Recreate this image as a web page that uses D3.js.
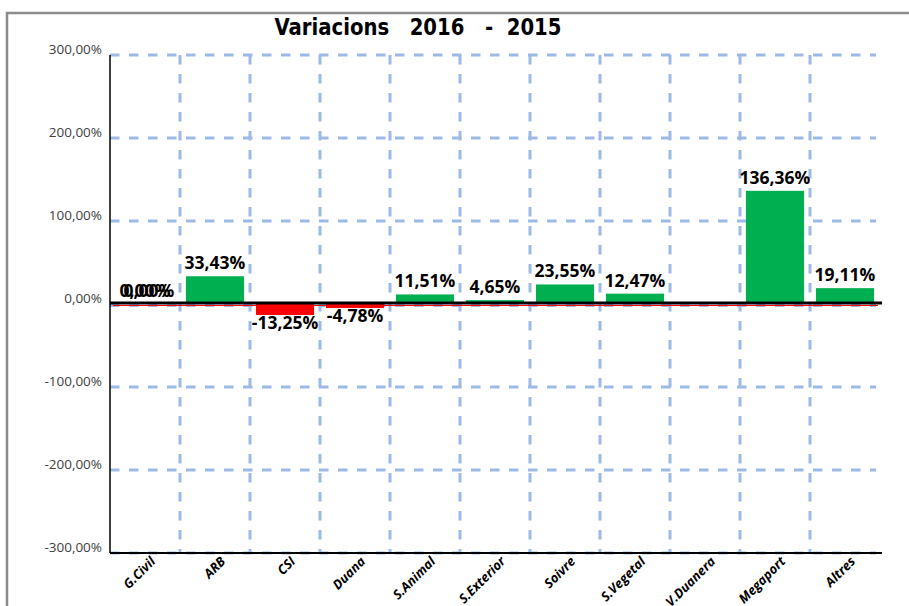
<!DOCTYPE html>
<html><head><meta charset="utf-8">
<script src="https://cdn.jsdelivr.net/npm/d3@7"></script>
<style>body{margin:0;background:#fff}</style>
</head><body>
<svg id="c" width="909" height="606"></svg>
<script>
const categories = ["G.Civil","ARB","CSI","Duana","S.Animal","S.Exterior","Soivre","S.Vegetal","V.Duanera","Megaport","Altres"];
const values = [0, 33.43, -13.25, -4.78, 11.51, 4.65, 23.55, 12.47, 0, 136.36, 19.11];
const labels = ["0,00%","33,43%","-13,25%","-4,78%","11,51%","4,65%","23,55%","12,47%",null,"136,36%","19,11%"];
const yTicks = [300, 200, 100, 0, -100, -200, -300];
const yTickLabels = ["300,00%","200,00%","100,00%","0,00%","-100,00%","-200,00%","-300,00%"];
const title = "Variacions\u00a0\u00a0\u00a02016\u00a0\u00a0\u00a0-\u00a0\u00a02015";

const svg = d3.select("#c");
const L = 110, R = 880, T = 55, B = 553;
const x = d3.scaleBand().domain(categories).range([L, R]).paddingInner(0.17).paddingOuter(0.085);
const y = d3.scaleLinear().domain([-300, 300]).range([B, T]);
const step = x.step();

// outer frame
svg.append("rect").attr("x", 7).attr("y", 13).attr("width", 1000).attr("height", 700)
  .attr("fill", "none").attr("stroke", "#8c8c8c").attr("stroke-width", 2.5);

// title
svg.append("text").attr("x", 418).attr("y", 35).attr("text-anchor", "middle")
  .attr("font-family", "'Liberation Sans Narrow', 'DejaVu Sans Condensed', 'Open Sans'")
  .attr("font-weight", "bold").attr("font-size", 23)
  .attr("textLength", 287).attr("lengthAdjust", "spacingAndGlyphs")
  .attr("fill", "#000").text(title);

const grid = "#9db9e6";
// horizontal grid
svg.append("g").selectAll("line").data(yTicks).join("line")
  .attr("x1", L).attr("x2", 876)
  .attr("y1", d => y(d) + (d === 0 ? 1.5 : 0)).attr("y2", d => y(d) + (d === 0 ? 1.5 : 0))
  .attr("stroke", grid).attr("stroke-width", 3).attr("stroke-dasharray", "9.5,9.5");
// vertical grid at band boundaries
svg.append("g").selectAll("line").data(d3.range(1, categories.length)).join("line")
  .attr("x1", k => L + k * step).attr("x2", k => L + k * step)
  .attr("y1", T).attr("y2", B)
  .attr("stroke", grid).attr("stroke-width", 3).attr("stroke-dasharray", "9.5,9.5");

// y tick labels
svg.append("g").selectAll("text").data(yTicks).join("text")
  .attr("x", 102).attr("y", d => y(d) - 1).attr("text-anchor", "end")
  .attr("font-family", "Open Sans").attr("font-size", 13.5).attr("fill", "#404040")
  .text((d, i) => yTickLabels[i]);

// bars
svg.append("g").selectAll("rect").data(values).join("rect")
  .attr("x", (d, i) => x(categories[i])).attr("width", x.bandwidth())
  .attr("y", d => y(Math.max(0, d))).attr("height", d => Math.abs(y(d) - y(0)))
  .attr("fill", d => d < 0 ? "#ff0000" : "#00b050");

// red thin line below zero
svg.append("line").attr("x1", L + 3).attr("x2", 878).attr("y1", y(0) + 1.5).attr("y2", y(0) + 1.5)
  .attr("stroke", "#ff0000").attr("stroke-width", 1);
// zero axis
svg.append("line").attr("x1", L).attr("x2", 882).attr("y1", y(0) - 1).attr("y2", y(0) - 1)
  .attr("stroke", "#000").attr("stroke-width", 3);
// y axis
svg.append("line").attr("x1", L).attr("x2", L).attr("y1", T).attr("y2", B)
  .attr("stroke", "#000").attr("stroke-width", 1.5);
// bottom axis
svg.append("line").attr("x1", L).attr("x2", 882).attr("y1", B).attr("y2", B)
  .attr("stroke", "#000").attr("stroke-width", 2);

// data labels
const lab = svg.append("g").attr("font-family", "Open Sans").attr("font-weight", "bold")
  .attr("font-size", 17.5).attr("fill", "#000").attr("text-anchor", "middle");
values.forEach((v, i) => {
  if (labels[i] == null) return;
  const cx = x(categories[i]) + x.bandwidth() / 2;
  const yy = v < 0 ? y(v) + 14 : y(v) - 7;
  lab.append("text").attr("x", cx).attr("y", yy).text(labels[i]);
  if (v === 0) lab.append("text").attr("x", cx + 4).attr("y", yy).text(labels[i]);
});

// category labels
svg.append("g").selectAll("text").data(categories).join("text")
  .attr("transform", d => `translate(${x(d) + x.bandwidth() / 2 + 8},${B + 6}) rotate(-45)`)
  .attr("text-anchor", "end").attr("dy", "0.35em")
  .attr("font-family", "Open Sans").attr("font-weight", "bold").attr("font-style", "italic")
  .attr("font-size", 13).attr("fill", "#000").text(d => d);
</script>
</body></html>
